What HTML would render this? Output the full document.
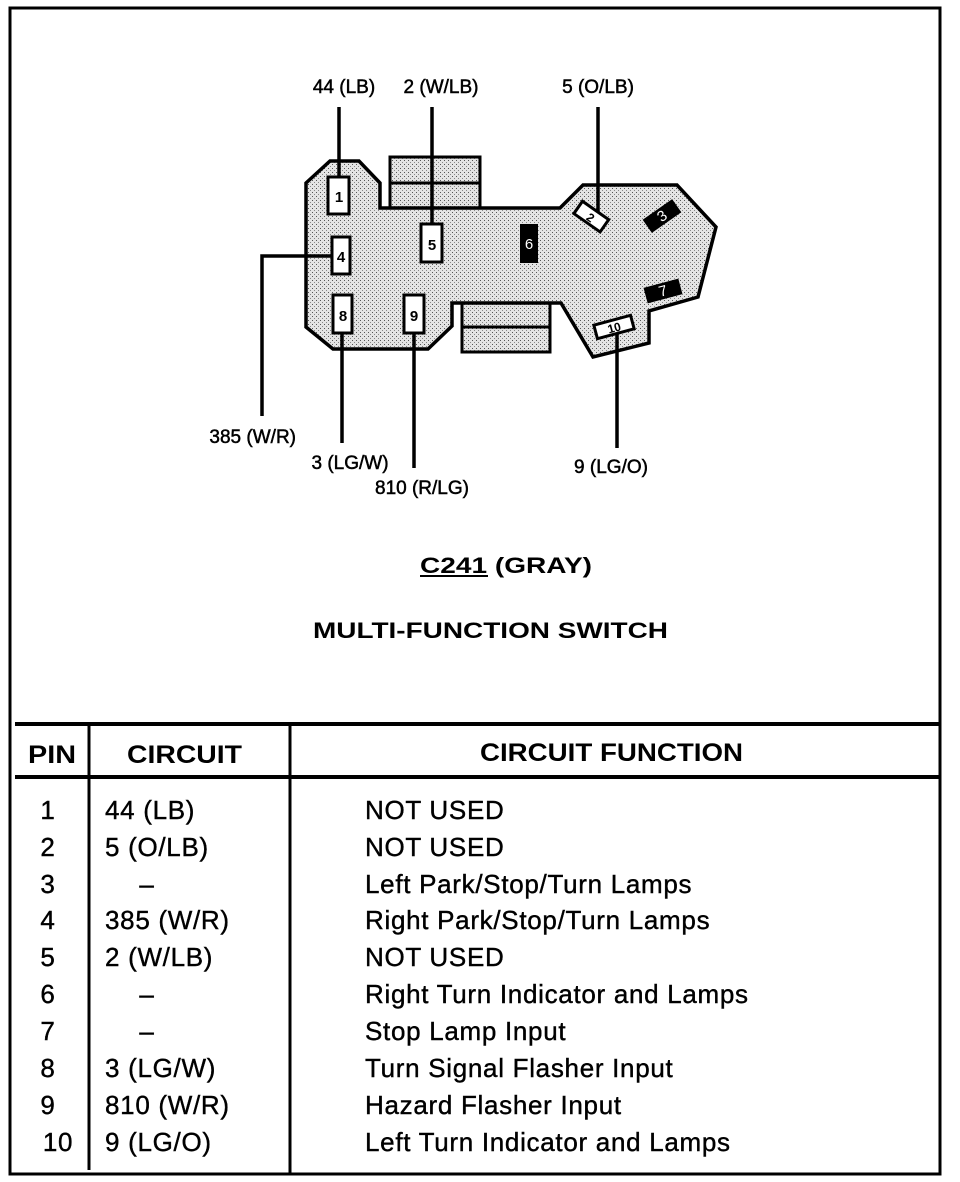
<!DOCTYPE html>
<html><head><meta charset="utf-8"><style>
html,body{margin:0;padding:0;background:#fff;}
svg{display:block;}
text{font-family:"Liberation Sans",sans-serif;fill:#000;}
</style></head><body>
<svg width="960" height="1182" viewBox="0 0 960 1182" xmlns="http://www.w3.org/2000/svg">
<defs>
<pattern id="st" width="4" height="4" patternUnits="userSpaceOnUse">
<rect width="4" height="4" fill="#e4e4e4"/><rect x="0" y="0" width="1" height="1" fill="#555"/><rect x="2" y="2" width="1" height="1" fill="#888"/>
</pattern>
</defs>
<rect x="10" y="8" width="930" height="1166" fill="none" stroke="#000" stroke-width="3"/>
<rect x="390" y="157" width="90" height="51" fill="url(#st)" stroke="#000" stroke-width="3"/>
<line x1="390" y1="183" x2="480" y2="183" stroke="#000" stroke-width="3"/>
<rect x="462" y="303" width="88" height="49" fill="url(#st)" stroke="#000" stroke-width="3"/>
<line x1="462" y1="327" x2="550" y2="327" stroke="#000" stroke-width="3"/>
<polygon points="306,183 330,161 359,161 380,183 380,208 560,208 583,185 677,185 716,227 698,297 649,311 649,343 593,357 561,303 452,303 452,326 428,349 333,349 306,327" fill="url(#st)" stroke="#000" stroke-width="3.5" stroke-linejoin="miter"/>
<g stroke="#000" stroke-width="3.5" fill="none">
<line x1="339" y1="107" x2="339" y2="178"/>
<line x1="432" y1="107" x2="432" y2="225"/>
<line x1="598" y1="107" x2="598" y2="218"/>
<polyline points="332,256 262,256 262,416"/>
<line x1="342" y1="333" x2="342" y2="443"/>
<line x1="414" y1="333" x2="414" y2="468"/>
<line x1="617" y1="330" x2="617" y2="448"/>
</g>
<g stroke="#000" stroke-width="3" fill="#fff">
<rect x="328" y="177" width="21" height="37"/>
<rect x="332" y="237" width="18" height="37"/>
<rect x="421" y="224" width="21" height="38"/>
<rect x="333" y="295" width="19" height="38"/>
<rect x="404" y="295" width="20" height="38"/>
<rect x="-16" y="-8" width="32" height="15" transform="translate(591,217) rotate(35)"/>
<rect x="-19" y="-7" width="38" height="14" transform="translate(614,327) rotate(-15)"/>
</g>
<rect x="520" y="224" width="18" height="39" fill="#000"/>
<rect x="-18" y="-8" width="36" height="16" fill="#000" transform="translate(662,216) rotate(-35)"/>
<rect x="-18" y="-8" width="36" height="16" fill="#000" transform="translate(663,291) rotate(-15)"/>
<g font-size="15" font-weight="bold" text-anchor="middle">
<text x="339" y="202">1</text>
<text x="341" y="262">4</text>
<text x="432" y="250">5</text>
<text x="343" y="321">8</text>
<text x="414" y="321">9</text>
<text x="529" y="249" style="fill:#fff" font-weight="normal">6</text>
<text x="591" y="222" font-size="12" transform="rotate(35 591 217)">2</text>
<text x="662" y="221" style="fill:#fff" font-weight="normal" transform="rotate(-35 662 216)">3</text>
<text x="663" y="296" style="fill:#fff" font-weight="normal" transform="rotate(-15 663 291)">7</text>
<text x="614" y="332" font-size="12" transform="rotate(-15 614 327)">10</text>
</g>
<g font-size="19" stroke="#000" stroke-width="0.5">
<text x="344" y="93" text-anchor="middle">44 (LB)</text>
<text x="441" y="93" text-anchor="middle">2 (W/LB)</text>
<text x="598" y="93" text-anchor="middle">5 (O/LB)</text>
<text x="296" y="443" text-anchor="end">385 (W/R)</text>
<text x="350" y="469" text-anchor="middle">3 (LG/W)</text>
<text x="422" y="494" text-anchor="middle">810 (R/LG)</text>
<text x="611" y="473" text-anchor="middle">9 (LG/O)</text>
</g>
<text x="420" y="573" font-size="22" font-weight="bold" textLength="172" lengthAdjust="spacingAndGlyphs">C241 (GRAY)</text>
<line x1="420" y1="576" x2="488" y2="576" stroke="#000" stroke-width="2"/>
<text x="313" y="638" font-size="22" font-weight="bold" textLength="355" lengthAdjust="spacingAndGlyphs">MULTI-FUNCTION SWITCH</text>
<line x1="15" y1="724" x2="940" y2="724" stroke="#000" stroke-width="4"/>
<line x1="15" y1="777" x2="940" y2="777" stroke="#000" stroke-width="4"/>
<line x1="89" y1="724" x2="89" y2="1170" stroke="#000" stroke-width="3"/>
<line x1="290" y1="724" x2="290" y2="1174" stroke="#000" stroke-width="3"/>
<g font-size="25" font-weight="bold">
<text x="28" y="763" textLength="48" lengthAdjust="spacingAndGlyphs">PIN</text>
<text x="127" y="763" textLength="115" lengthAdjust="spacingAndGlyphs">CIRCUIT</text>
<text x="480" y="761" textLength="263" lengthAdjust="spacingAndGlyphs">CIRCUIT FUNCTION</text>
</g>
<g font-size="26" stroke="#000" stroke-width="0.4" style="letter-spacing:0.7px">
<text x="48" y="819" text-anchor="middle">1</text><text x="105" y="819">44 (LB)</text><text x="365" y="819">NOT USED</text>
<text x="48" y="856" text-anchor="middle">2</text><text x="105" y="856">5 (O/LB)</text><text x="365" y="856">NOT USED</text>
<text x="48" y="893" text-anchor="middle">3</text><text x="147" y="893" text-anchor="middle">–</text><text x="365" y="893">Left Park/Stop/Turn Lamps</text>
<text x="48" y="929" text-anchor="middle">4</text><text x="105" y="929">385 (W/R)</text><text x="365" y="929">Right Park/Stop/Turn Lamps</text>
<text x="48" y="966" text-anchor="middle">5</text><text x="105" y="966">2 (W/LB)</text><text x="365" y="966">NOT USED</text>
<text x="48" y="1003" text-anchor="middle">6</text><text x="147" y="1003" text-anchor="middle">–</text><text x="365" y="1003">Right Turn Indicator and Lamps</text>
<text x="48" y="1040" text-anchor="middle">7</text><text x="147" y="1040" text-anchor="middle">–</text><text x="365" y="1040">Stop Lamp Input</text>
<text x="48" y="1077" text-anchor="middle">8</text><text x="105" y="1077">3 (LG/W)</text><text x="365" y="1077">Turn Signal Flasher Input</text>
<text x="48" y="1114" text-anchor="middle">9</text><text x="105" y="1114">810 (W/R)</text><text x="365" y="1114">Hazard Flasher Input</text>
<text x="58" y="1151" text-anchor="middle">10</text><text x="105" y="1151">9 (LG/O)</text><text x="365" y="1151">Left Turn Indicator and Lamps</text>
</g>
</svg>
</body></html>
